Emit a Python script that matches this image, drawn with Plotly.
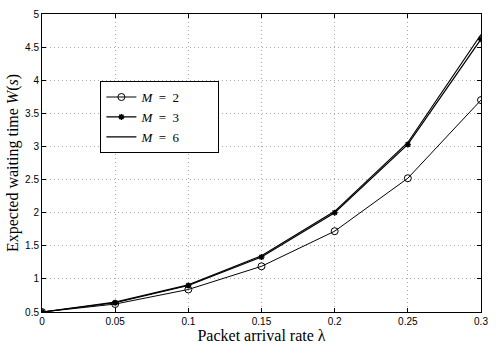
import plotly.graph_objects as go

lam = [0, 0.05, 0.1, 0.15, 0.2, 0.25, 0.3]
w_m2 = [0.5, 0.62, 0.84, 1.19, 1.72, 2.52, 3.70]
w_m3 = [0.5, 0.64, 0.90, 1.33, 2.00, 3.03, 4.62]
w_m6 = [0.5, 0.65, 0.91, 1.35, 2.02, 3.06, 4.69]

xticks = ["0", "0.05", "0.1", "0.15", "0.2", "0.25", "0.3"]
yvals = [0.5, 1, 1.5, 2, 2.5, 3, 3.5, 4, 4.5, 5]
yticks = ["0.5", "1", "1.5", "2", "2.5", "3", "3.5", "4", "4.5", "5"]

pad = "&nbsp;" * 10
fig = go.Figure()

fig.add_trace(go.Scatter(x=lam, y=w_m2, mode="lines+markers", name="<i>M</i>&nbsp;&nbsp;=&nbsp;&nbsp;2" + pad,
                         line=dict(color="black", width=1),
                         marker=dict(symbol="circle-open", size=7, color="black", line=dict(width=1))))
fig.add_trace(go.Scatter(x=lam, y=w_m3, mode="lines+markers", name="<i>M</i>&nbsp;&nbsp;=&nbsp;&nbsp;3",
                         line=dict(color="black", width=1.2),
                         marker=dict(symbol="asterisk-open", size=5, color="black", line=dict(width=1.5))))
fig.add_trace(go.Scatter(x=lam, y=w_m6, mode="lines", name="<i>M</i>&nbsp;&nbsp;=&nbsp;&nbsp;6",
                         line=dict(color="black", width=1.2)))

axis_common = dict(showline=True, linecolor="black", linewidth=1, mirror="ticks",
                   ticks="inside", ticklen=4, tickcolor="black", automargin=False,
                   showgrid=True, gridcolor="#aaaaaa", griddash="1px,3px", gridwidth=1,
                   zeroline=False, tickfont=dict(family="Liberation Sans, Arial", size=10, color="black"))

fig.update_xaxes(range=[0, 0.3], tickvals=lam, ticktext=xticks,
                 title=dict(text="Packet arrival rate λ", standoff=0,
                            font=dict(family="Liberation Serif", size=16, color="black")),
                 **axis_common)
fig.update_yaxes(range=[0.5, 5], tickvals=yvals, ticktext=yticks,
                 title=dict(text="Expected waiting time <i>W</i>(<i>s</i>)", standoff=2,
                            font=dict(family="Liberation Serif", size=16, color="black")),
                 **axis_common)

fig.update_layout(
    width=498, height=346,
    margin=dict(l=42, r=17, t=14, b=34),
    plot_bgcolor="white", paper_bgcolor="white",
    legend=dict(x=0.133, y=0.775, xanchor="left", yanchor="top",
                bgcolor="white", bordercolor="black", borderwidth=1,
                font=dict(family="Liberation Serif", size=13, color="black"),
                tracegroupgap=0, itemwidth=30),
)

fig.write_html("out.html", config={"displayModeBar": False},
               post_script="document.body.style.margin='0px';")
